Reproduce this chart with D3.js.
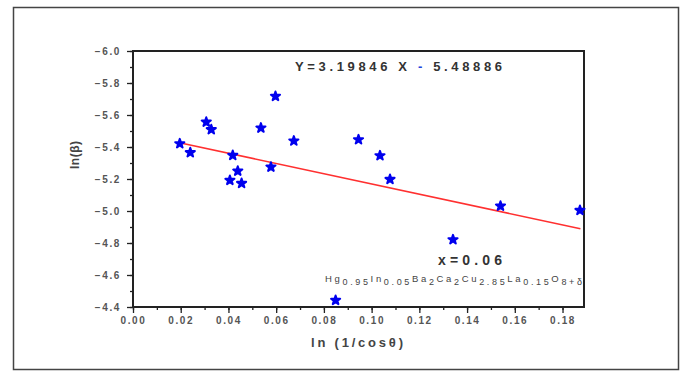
<!DOCTYPE html>
<html>
<head>
<meta charset="utf-8">
<script src="https://cdn.jsdelivr.net/npm/d3@7"></script>
<style>
  body { margin: 0; background: #fff; }
  text { font-family: "Liberation Sans", Arial, sans-serif; }
</style>
</head>
<body>
<div class="chart"></div>
<script>
var svgWidth = 686;
var svgHeight = 371;

// data
var xVals = [0.0196, 0.0240, 0.0307, 0.0328, 0.0418, 0.0439, 0.0406, 0.0455, 0.0536, 0.0578,
  0.0597, 0.0674, 0.0849, 0.0945, 0.1035, 0.1077, 0.1341, 0.1540, 0.1873];
var yVals = [-5.421, -5.365, -5.556, -5.509, -5.348, -5.250, -5.192, -5.173, -5.519, -5.275,
  -5.717, -5.438, -4.442, -5.446, -5.346, -5.198, -4.821, -5.031, -5.004];

// fitted line
var slope = 3.19846;
var intercept = -5.48886;
var fitRange = [0.0195, 0.1875];

var xTicks = [0.00, 0.02, 0.04, 0.06, 0.08, 0.10, 0.12, 0.14, 0.16, 0.18];
var yTicks = [-6.0, -5.8, -5.6, -5.4, -5.2, -5.0, -4.8, -4.6, -4.4];

var margin = { top: 51, left: 133 };
var width = 451;
var height = 256;

var svg = d3.select(".chart").append("svg")
  .attr("width", svgWidth)
  .attr("height", svgHeight);

// outer frame
svg.append("rect")
  .attr("x", 13.5)
  .attr("y", 7.5)
  .attr("width", 665)
  .attr("height", 362)
  .attr("fill", "none")
  .attr("stroke", "#444")
  .attr("stroke-width", 1.5);

var chartGroup = svg.append("g")
  .attr("transform", `translate(${margin.left}, ${margin.top})`);

var xScale = d3.scaleLinear().domain([0, 0.189]).range([0, width]);
var yScale = d3.scaleLinear().domain([-6.0, -4.4]).range([0, height]);

// minor ticks
var xMinor = d3.axisBottom(xScale)
  .tickValues(d3.range(0, 0.1895, 0.01))
  .tickSize(3).tickFormat("");
var yMinor = d3.axisLeft(yScale)
  .tickValues(d3.range(0, 17).map(i => -6.0 + i * 0.1))
  .tickSize(3).tickFormat("");

chartGroup.append("g").attr("transform", `translate(0, ${height})`).call(xMinor);
chartGroup.append("g").call(yMinor);

// major ticks + labels
var xAxis = chartGroup.append("g")
  .attr("transform", `translate(0, ${height})`)
  .call(d3.axisBottom(xScale).tickValues(xTicks).tickSize(6).tickPadding(4).tickFormat(d3.format(".2f")));
var yAxis = chartGroup.append("g")
  .call(d3.axisLeft(yScale).tickValues(yTicks).tickSize(6).tickPadding(6).tickFormat(d3.format(".1f")));

[xAxis, yAxis].forEach(function(ax) {
  ax.selectAll("text")
    .attr("font-family", "Liberation Sans, Arial, sans-serif")
    .attr("font-size", 10)
    .attr("font-weight", "bold")
    .attr("letter-spacing", "1.6px")
    .attr("fill", "#555");
});
chartGroup.selectAll("g line").attr("stroke", "#222").attr("stroke-width", 1.3);
chartGroup.selectAll(".domain").remove();

// axes box
chartGroup.append("rect")
  .attr("width", width)
  .attr("height", height)
  .attr("fill", "none")
  .attr("stroke", "#222")
  .attr("stroke-width", 2);

// fit line
chartGroup.append("line")
  .attr("x1", xScale(fitRange[0]))
  .attr("y1", yScale(slope * fitRange[0] + intercept))
  .attr("x2", xScale(fitRange[1]))
  .attr("y2", yScale(slope * fitRange[1] + intercept))
  .attr("stroke", "#ff3030")
  .attr("stroke-width", 1.6);

// points (chunky stars)
var star = d3.symbol().type(d3.symbolStar).size(26);
chartGroup.selectAll(".pt")
  .data(xVals.map((x, i) => [x, yVals[i]]))
  .enter()
  .append("path")
  .attr("class", "pt")
  .attr("d", star)
  .attr("transform", d => "translate(" + xScale(d[0]) + "," + yScale(d[1]) + ")")
  .attr("fill", "#0000ee")
  .attr("stroke", "#0000ee")
  .attr("stroke-width", 2)
  .attr("stroke-linejoin", "round");

// axis titles
svg.append("text")
  .attr("x", 311)
  .attr("y", 347)
  .attr("textLength", 92)
  .attr("lengthAdjust", "spacing")
  .attr("font-size", 13)
  .attr("font-weight", "bold")
  .attr("fill", "#444")
  .text("ln (1/cosθ)");

svg.append("text")
  .attr("transform", "translate(79, 169) rotate(-90)")
  .attr("textLength", 28)
  .attr("lengthAdjust", "spacing")
  .attr("font-size", 12)
  .attr("font-weight", "bold")
  .attr("fill", "#444")
  .text("ln(β)");

// equation
var eq = svg.append("text")
  .attr("x", 295)
  .attr("y", 71)
  .attr("textLength", 207)
  .attr("lengthAdjust", "spacing")
  .attr("font-size", 13)
  .attr("font-weight", "bold")
  .attr("fill", "#333");
eq.append("tspan").text("Y=3.19846 X ");
eq.append("tspan").attr("fill", "#2244dd").text("-");
eq.append("tspan").text(" 5.48886");

svg.append("text")
  .attr("x", 438)
  .attr("y", 265)
  .attr("textLength", 64)
  .attr("lengthAdjust", "spacing")
  .attr("font-size", 14)
  .attr("font-weight", "bold")
  .attr("fill", "#333")
  .text("x=0.06");

// compound formula with subscripts
var parts = [["Hg", ""], ["0.95", "sub"], ["In", ""], ["0.05", "sub"], ["Ba", ""], ["2", "sub"],
  ["Ca", ""], ["2", "sub"], ["Cu", ""], ["2.85", "sub"], ["La", ""], ["0.15", "sub"], ["O", ""], ["8+δ", "sub"]];
var formula = svg.append("text")
  .attr("x", 325)
  .attr("y", 282)
  .attr("textLength", 257)
  .attr("lengthAdjust", "spacing")
  .attr("fill", "#444");
parts.forEach(function(p, i) {
  var prev = i > 0 ? parts[i - 1][1] : "";
  var dy = p[1] === "sub" ? 3 : (prev === "sub" ? -3 : 0);
  formula.append("tspan")
    .attr("dy", dy)
    .attr("font-size", p[1] === "sub" ? 9 : 9.5)
    .text(p[0]);
});
</script>
</body>
</html>
